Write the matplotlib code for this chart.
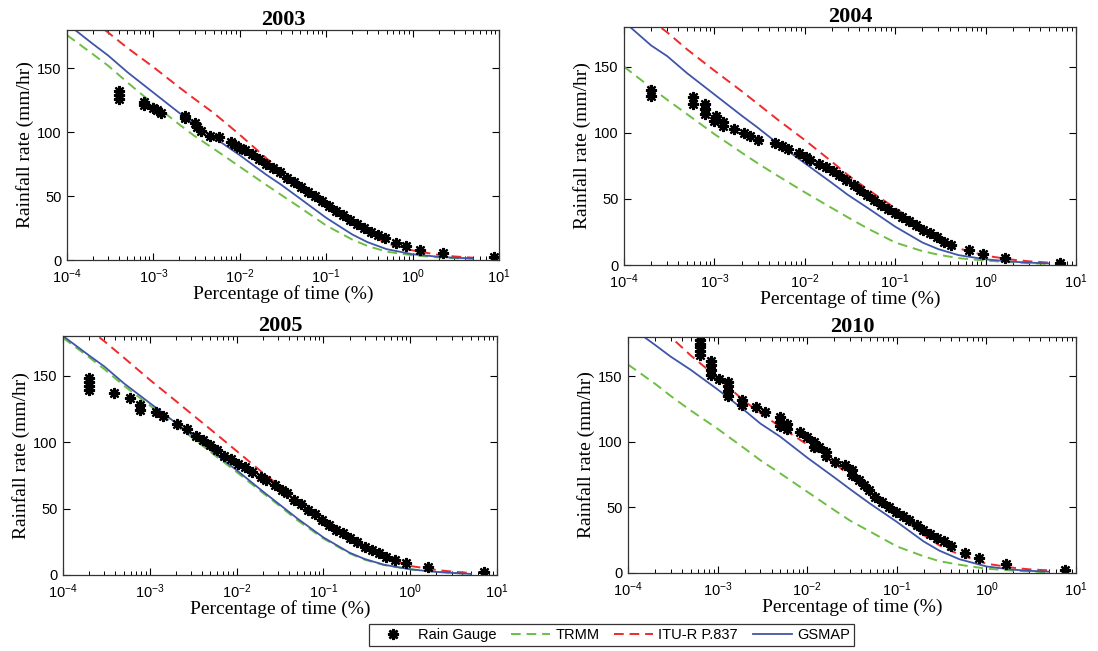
import matplotlib
matplotlib.use("Agg")
import matplotlib.pyplot as plt
from matplotlib.lines import Line2D
from matplotlib.ticker import LogLocator, NullFormatter

# percentage-of-time grid shared by the three model curves
P_GRID = [1e-4, 2e-4, 3e-4, 5e-4, 1e-3, 2e-3, 3e-3, 5e-3, 1e-2, 2e-2,
          3e-2, 5e-2, 0.1, 0.2, 0.3, 0.5, 1, 2, 3, 5]

TRMM_2003 = [176, 161, 152, 139, 122, 106, 97, 87, 73, 59, 51, 41, 27, 16, 11, 6.5, 3.7, 2, 1.5, 1]
GSMAP_2003 = [185, 169, 160, 147, 131, 115, 106, 96, 82, 67, 59, 48, 33, 20, 14, 8.5, 4.5, 2.5, 1.8, 1.2]
ITU_2003 = [201, 187, 178, 166, 151, 135, 126, 115, 98, 80, 70, 58, 44, 29, 21, 13, 7.5, 4, 2.8, 1.8]

TRMM_2004 = [150, 134, 125, 114, 99, 85, 77, 67.5, 55, 43, 36, 27.5, 17, 10.5, 7.8, 5.2, 3.3, 2, 1.4, 0.8]
GSMAP_2004 = [184, 166, 158, 145, 129, 113, 104, 92, 77, 62, 53, 43, 29, 17, 12, 7.5, 4.3, 2.5, 1.8, 1.2]
ITU_2004 = [200, 185, 176, 163, 147, 131.5, 122, 110, 94.5, 78, 68, 57, 43, 29, 21, 12.6, 7, 4, 2.8, 1.8]

TRMM_2005 = [178.6, 164, 155, 142.7, 127.7, 112.7, 104, 92.7, 77.6, 61.9, 53, 41.3, 27.5, 16.3, 11.5, 7.5, 4.3, 2.5, 1.7, 0.8]
GSMAP_2005 = [180, 165.3, 157, 144.5, 129.5, 114.5, 106, 94, 79, 63, 54, 42.6, 28.3, 16.8, 12, 7.7, 4.3, 2.3, 1.6, 0.8]
ITU_2005 = [201, 185, 176, 163.8, 147, 131, 121.5, 109.7, 93.4, 77, 68, 55, 41.3, 27.5, 20, 12.5, 6.8, 3.8, 2.6, 1.5]

TRMM_2010 = [159, 144.4, 135, 124, 110, 95, 86, 76, 62, 48, 40, 31.7, 20.3, 12.7, 9, 6.3, 3.3, 1.8, 1.2, 0.5]
GSMAP_2010 = [189, 174, 165, 155, 140, 124, 114, 104, 88, 73, 64, 53, 39, 24, 17, 10.5, 5, 2.5, 1.7, 1]
ITU_2010 = [207, 189, 180, 166, 149, 131, 122, 111.5, 98, 84, 74, 62, 45, 29, 21, 14, 7.1, 4, 2.8, 2]

# rain gauge measurements
GAUGE_P_2003 = [4.0e-4, 4.0e-4, 4.0e-4, 7.8e-4, 7.8e-4, 1.0e-3, 1.1e-3, 1.22e-3,
                2.35e-3, 2.35e-3, 3.0e-3, 3.2e-3, 3.6e-3, 4.5e-3, 5.7e-3, 7.9e-3, 8.7e-3,
                1.0e-2, 1.15e-2, 1.38e-2, 1.67e-2, 2.01e-2, 2.42e-2, 2.92e-2, 3.52e-2,
                4.25e-2, 5.12e-2, 6.17e-2, 7.43e-2, 8.96e-2, 0.108, 0.130, 0.157, 0.189,
                0.228, 0.275, 0.331, 0.399, 0.481, 0.637, 0.842, 1.22, 2.25, 8.7]
GAUGE_R_2003 = [126, 129, 132, 121, 124, 119, 117, 115,
                113, 111, 107, 104, 101, 97, 96, 92, 90,
                88, 86, 83, 79, 75, 72, 68.5, 64.5,
                61, 57, 53.5, 50, 46, 42, 38.5, 35, 31.5,
                28, 25, 22, 19.5, 17, 13.5, 11, 8, 5.5, 2]

GAUGE_P_2004 = [2e-4, 2e-4, 5.8e-4, 5.8e-4, 7.8e-4, 7.8e-4, 7.8e-4, 1.0e-3, 1.05e-3,
                1.24e-3, 1.24e-3, 1.66e-3, 2.1e-3, 2.5e-3, 3.0e-3, 4.7e-3, 5.6e-3, 6.5e-3,
                8.7e-3, 1.04e-2, 1.14e-2, 1.42e-2, 1.7e-2, 2.03e-2, 2.42e-2, 2.89e-2,
                3.46e-2, 4.13e-2, 4.93e-2, 5.89e-2, 7.03e-2, 8.4e-2, 0.1, 0.12, 0.143,
                0.17, 0.204, 0.24, 0.29, 0.346, 0.41, 0.65, 0.93, 1.64, 6.7]
GAUGE_R_2004 = [128, 132, 122, 127, 114, 118, 122, 109, 113,
                105, 108, 102.5, 99.5, 97.5, 94.5, 92, 90, 88,
                85, 82, 79.5, 76.5, 74, 71, 68, 64.5,
                60.7, 57, 53, 49.3, 45.5, 42.5, 39.5, 36, 33,
                30.4, 26.6, 24, 21, 17.7, 15.2, 11.4, 8.1, 5, 1.3]

GAUGE_P_2005 = [2e-4, 2e-4, 2e-4, 2e-4, 3.84e-4, 5.94e-4, 7.7e-4, 7.7e-4, 1.17e-3,
                1.41e-3, 2.04e-3, 2.7e-3, 3.4e-3, 4.1e-3, 4.94e-3, 5.96e-3, 7.18e-3,
                8.66e-3, 1.04e-2, 1.26e-2, 1.51e-2, 1.91e-2, 2.19e-2, 2.76e-2, 3.33e-2,
                3.82e-2, 4.61e-2, 5.55e-2, 6.69e-2, 8.07e-2, 9.73e-2, 0.117, 0.141, 0.17,
                0.205, 0.247, 0.298, 0.359, 0.433, 0.522, 0.66, 0.9, 1.6, 7.1]
GAUGE_R_2005 = [139, 142, 145, 148, 137, 133.5, 124, 128, 122.7,
                119.5, 114, 110, 105, 101.4, 97.7, 94, 90,
                87.6, 83.9, 81.4, 77.6, 73.9, 71.4, 67.6, 63.9,
                61.9, 56.3, 53.8, 48.8, 45.8, 41.3, 37.6, 33.8, 31.3,
                27.5, 25, 21.3, 18.8, 16.3, 13.3, 11.3, 8.8, 5.8, 2.5]

GAUGE_P_2010 = [6.4e-4, 6.4e-4, 6.4e-4, 6.4e-4, 6.4e-4, 8.4e-4, 8.4e-4, 8.4e-4, 8.4e-4,
                1.05e-3, 1.32e-3, 1.32e-3, 1.32e-3, 1.32e-3, 1.85e-3, 1.85e-3, 2.7e-3,
                3.37e-3, 5.0e-3, 5.0e-3, 5.0e-3, 6.0e-3, 6.0e-3, 8.3e-3, 9.9e-3, 1.18e-2,
                1.18e-2, 1.35e-2, 1.61e-2, 1.61e-2, 2.02e-2, 2.64e-2, 3.16e-2, 3.16e-2,
                3.78e-2, 4.33e-2, 4.95e-2, 5.67e-2, 6.77e-2, 8.1e-2, 9.7e-2, 0.116, 0.138,
                0.166, 0.198, 0.237, 0.283, 0.338, 0.405, 0.58, 0.83, 1.64, 7.6]
GAUGE_R_2010 = [166, 169, 172, 175, 178, 151, 155, 159, 162,
                148, 135, 139, 143, 146, 128, 132, 126.7,
                122.9, 112, 115, 119, 110, 114, 107.7, 103.9, 96,
                100, 96.3, 89, 92.5, 84.9, 82.3, 75, 78.5,
                70.9, 67.1, 63.3, 58.3, 54.5, 50.7, 46.9, 43.1, 40.5,
                36.7, 32.9, 29.9, 26.6, 24.1, 20.3, 15.2, 11.4, 7.1, 2.5]

YEARS = ["2003", "2004", "2005", "2010"]
PANELS = {
    "2003": (GAUGE_P_2003, GAUGE_R_2003, TRMM_2003, ITU_2003, GSMAP_2003),
    "2004": (GAUGE_P_2004, GAUGE_R_2004, TRMM_2004, ITU_2004, GSMAP_2004),
    "2005": (GAUGE_P_2005, GAUGE_R_2005, TRMM_2005, ITU_2005, GSMAP_2005),
    "2010": (GAUGE_P_2010, GAUGE_R_2010, TRMM_2010, ITU_2010, GSMAP_2010),
}
# axes rectangles in pixels: left, right, top, bottom
AXES_PX = {
    "2003": (67, 499, 30, 260),
    "2004": (624, 1076, 27, 265),
    "2005": (63, 497, 336, 575),
    "2010": (628, 1076, 337, 573),
}
FIG_W, FIG_H = 1098, 651

GREEN = "#6DBE45"
RED = "#EE2A2A"
BLUE = "#3F55A8"
SERIF = "Liberation Serif"
SANS = "Liberation Sans"
GAUGE_MARKER = (8, 2, 0)

plt.rcParams.update({
    "font.family": SANS,
    "mathtext.default": "regular",
    "xtick.direction": "in",
    "ytick.direction": "in",
    "xtick.top": True,
    "ytick.right": True,
    "xtick.labelsize": 10.5,
    "ytick.labelsize": 10.5,
    "axes.linewidth": 0.9,
    "axes.edgecolor": "#333333",
})


def draw_panel(ax, year):
    gp, gr, trmm, itu, gsmap = PANELS[year]
    ax.plot(P_GRID, trmm, color=GREEN, linestyle=(0, (5, 3)), linewidth=1.4)
    ax.plot(P_GRID, itu, color=RED, linestyle=(0, (5, 3)), linewidth=1.4)
    ax.plot(P_GRID, gsmap, color=BLUE, linewidth=1.3)
    ax.plot(gp, gr, linestyle="none", marker=GAUGE_MARKER, markersize=8,
            markeredgewidth=1.6, color="black")
    ax.set_xscale("log")
    ax.set_xlim(1e-4, 1e1)
    ax.set_ylim(0, 180)
    ax.set_yticks([0, 50, 100, 150])
    ax.xaxis.set_major_locator(LogLocator(base=10, numticks=10))
    ax.xaxis.set_minor_locator(LogLocator(base=10, subs=range(2, 10), numticks=20))
    ax.xaxis.set_minor_formatter(NullFormatter())
    ax.tick_params(which="major", length=5, width=0.8)
    ax.tick_params(axis="x", which="major", pad=5)
    ax.tick_params(axis="y", which="major", pad=4)
    ax.tick_params(which="minor", length=3, width=0.7)
    ax.set_title(year, family=SERIF, fontweight="bold", fontsize=16, pad=3)
    ax.set_xlabel("Percentage of time (%)", family=SERIF, fontsize=14, labelpad=0)
    ax.set_ylabel("Rainfall rate (mm/hr)", family=SERIF, fontsize=14, labelpad=2)


fig = plt.figure(figsize=(FIG_W / 100, FIG_H / 100), dpi=100)
for year in YEARS:
    left, right, top, bottom = AXES_PX[year]
    rect = [left / FIG_W, 1 - bottom / FIG_H, (right - left) / FIG_W, (bottom - top) / FIG_H]
    ax = fig.add_axes(rect)
    draw_panel(ax, year)

handles = [
    Line2D([], [], linestyle="none", marker=GAUGE_MARKER, markersize=8,
           markeredgewidth=1.8, color="black"),
    Line2D([], [], color=GREEN, linestyle=(0, (5, 3)), linewidth=1.4),
    Line2D([], [], color=RED, linestyle=(0, (5, 3)), linewidth=1.4),
    Line2D([], [], color=BLUE, linewidth=1.3),
]
labels = ["Rain Gauge", "TRMM", "ITU-R P.837", "GSMAP"]
leg = fig.legend(handles, labels, loc="center", bbox_to_anchor=(0.557, 0.0246),
                 ncol=4, fontsize=10.5, frameon=True, fancybox=False,
                 edgecolor="black", handlelength=2.7, columnspacing=1.0,
                 borderpad=0.3, handletextpad=0.35)
leg.get_frame().set_linewidth(0.9)

fig.savefig("out.png", dpi=100)
